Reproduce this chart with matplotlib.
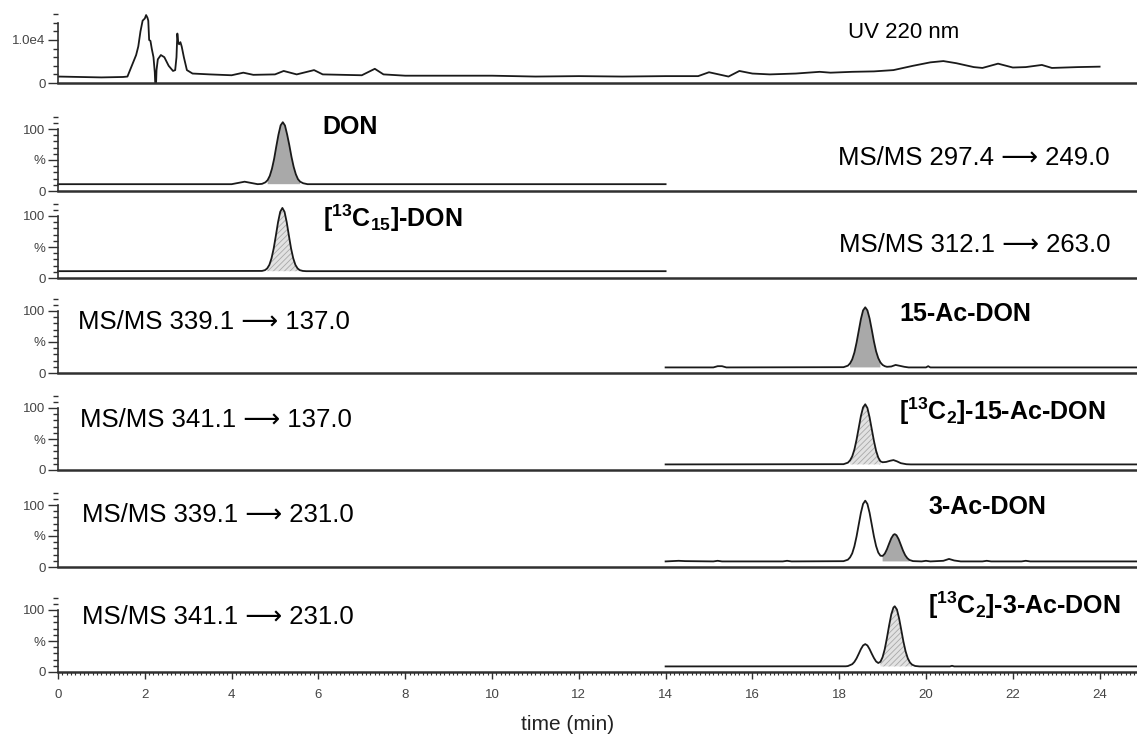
import numpy as np
import matplotlib
matplotlib.use('Agg')
import matplotlib.pyplot as plt
from matplotlib.ticker import MultipleLocator, FixedLocator, FixedFormatter

plt.rcParams['font.family'] = ['Liberation Sans', 'DejaVu Sans']
plt.rcParams['mathtext.fontset'] = 'custom'
plt.rcParams['mathtext.rm'] = 'Liberation Sans'
plt.rcParams['mathtext.bf'] = 'Liberation Sans:bold'
plt.rcParams['mathtext.it'] = 'Liberation Sans:italic'
plt.rcParams['hatch.linewidth'] = 0.6

# ---- data ----
# UV 220 nm trace (time in min, absorbance counts)
uv_t = [0, 0.5, 1.0, 1.5, 1.6, 1.7, 1.8, 1.85, 1.9, 1.95, 2.0, 2.03, 2.06, 2.08,
        2.1, 2.13, 2.16, 2.2, 2.23, 2.24, 2.26, 2.27, 2.3, 2.37, 2.45, 2.55, 2.65,
        2.7, 2.73, 2.75, 2.77, 2.79, 2.82, 2.85, 2.9, 2.97, 3.1, 3.5, 4.0, 4.27,
        4.5, 5.0, 5.2, 5.5, 5.9, 6.1, 7.0, 7.3, 7.5, 8.0, 10.0, 11.0, 12.0, 13.0,
        14.0, 14.75, 15.0, 15.45, 15.7, 16.0, 16.4, 17.0, 17.55, 17.8, 18.3,
        18.8, 19.25, 19.7, 20.1, 20.4, 20.7, 21.1, 21.3, 21.66, 22.0, 22.3,
        22.67, 22.9, 23.5, 24.0]
uv_y = [1500, 1400, 1300, 1400, 1500, 4000, 6500, 8500, 12000, 14500, 15000,
        15800, 15200, 14500, 10000, 9800, 8000, 6000, 2500, 0, 0, 3000, 5500,
        6500, 6000, 4000, 2800, 3000, 6000, 11500, 9500, 9000, 9500, 8500, 6000,
        3000, 2200, 2000, 1800, 2400, 1900, 2000, 2800, 2000, 3000, 2000, 1800,
        3300, 2000, 1700, 1700, 1500, 1600, 1500, 1600, 1600, 2500, 1500, 2800,
        2200, 2000, 2200, 2600, 2400, 2600, 2700, 3000, 4000, 4800, 5100, 4600,
        3700, 3500, 4500, 3600, 3700, 4200, 3500, 3700, 3800]

# DON, m/z 297.4 -> 249.0 (relative intensity %)
don_t = [0, 4.0, 4.15, 4.3, 4.45, 4.6, 4.7, 4.78, 4.83, 4.88, 4.93, 4.98, 5.03,
         5.08, 5.13, 5.18, 5.23, 5.28, 5.33, 5.38, 5.43, 5.48, 5.53, 5.58, 5.65,
         5.75, 14.0]
don_y = [11, 11, 13, 15, 13, 11, 11.5, 14, 17.6, 24.5, 36, 52, 72, 91, 106, 111,
         105.6, 91, 74, 55, 39, 27, 19, 15, 12.5, 11, 11]

# [13C15]-DON, m/z 312.1 -> 263.0
c15_t = [0, 4.7, 4.77, 4.82, 4.87, 4.92, 4.97, 5.02, 5.07, 5.12, 5.17, 5.22,
         5.27, 5.32, 5.37, 5.42, 5.47, 5.52, 5.57, 5.64, 5.72, 14.0]
c15_y = [11, 11.4, 12.7, 15.5, 21.2, 31.8, 47.7, 68.4, 90, 106.7, 113, 106.7,
         90, 68.4, 47.7, 31.8, 21.2, 15.5, 12.7, 11.4, 11, 11]

# 15-Ac-DON, m/z 339.1 -> 137.0
ac15_t = [14.0, 15.1, 15.2, 15.3, 15.4, 18.1, 18.2, 18.25, 18.3, 18.35, 18.4,
          18.45, 18.5, 18.55, 18.6, 18.65, 18.7, 18.75, 18.8, 18.85, 18.9,
          18.95, 19.0, 19.05, 19.1, 19.2, 19.3, 19.4, 19.5, 19.6, 20.0, 20.05,
          20.1, 24.86]
ac15_y = [9, 9, 11, 11, 9, 9.4, 11.8, 15.5, 22, 33, 49, 68, 87, 101, 106, 101,
          88, 70, 51, 35, 24, 17, 13, 11, 10, 10.5, 13, 11.5, 10, 9, 9, 11, 9, 9]

# [13C2]-15-Ac-DON, m/z 341.1 -> 137.0
c2ac15_t = [14.0, 18.1, 18.2, 18.25, 18.3, 18.35, 18.4, 18.45, 18.5, 18.55, 18.6,
            18.65, 18.7, 18.75, 18.8, 18.85, 18.9, 18.95, 19.0, 19.08, 19.18,
            19.25, 19.33, 19.42, 19.55, 19.65, 24.86]
c2ac15_y = [9, 9.4, 11.8, 15.5, 22, 33, 49, 68, 87, 101, 106, 100, 85, 66, 47,
            31, 20, 14, 12.5, 13, 15, 16, 14, 11, 9.3, 9, 9]

# 3-Ac-DON, m/z 339.1 -> 231.0
ac3_t = [14.0, 14.3, 14.45, 15.1, 15.2, 15.3, 16.7, 16.8, 16.9, 18.1, 18.2,
         18.25, 18.3, 18.35, 18.4, 18.45, 18.5, 18.55, 18.6, 18.65, 18.7, 18.75,
         18.8, 18.85, 18.9, 18.95, 19.0, 19.05, 19.1, 19.15, 19.2, 19.25, 19.28,
         19.32, 19.37, 19.42, 19.47, 19.52, 19.57, 19.62, 19.7, 19.9, 20.0,
         20.1, 20.4, 20.53, 20.65, 20.8, 21.3, 21.4, 21.5, 22.2, 22.3, 22.4,
         24.86]
ac3_y = [9, 10, 9.5, 9, 10, 9, 9, 10, 9, 9.4, 11.8, 15.5, 22, 33.4, 49.3, 68.5,
         87.4, 101.7, 107, 101.7, 87.4, 68.5, 49.4, 33.8, 23.3, 18.2, 17.8, 21.5,
         28.6, 37.7, 46.4, 52, 53, 51.2, 44.8, 35.7, 26.5, 19.1, 14.2, 11.3, 9.5,
         9, 10, 9, 10, 13, 10.5, 9, 9, 10, 9, 9, 10, 9, 9]

# [13C2]-3-Ac-DON, m/z 341.1 -> 231.0
c2ac3_t = [14.0, 18.15, 18.2, 18.3, 18.35, 18.4, 18.45, 18.5, 18.55, 18.6,
           18.65, 18.7, 18.75, 18.8, 18.85, 18.9, 18.95, 19.0, 19.05, 19.1,
           19.15, 19.2, 19.25, 19.28, 19.33, 19.38, 19.43, 19.48, 19.53, 19.58,
           19.63, 19.68, 19.75, 19.85, 20.55, 20.6, 20.65, 24.86]
c2ac3_y = [9, 9.2, 9.6, 12.6, 16.3, 22, 29.3, 36.9, 42.8, 45, 42.8, 36.9, 29.5,
           22.6, 17, 14.5, 16.5, 24, 37, 55, 75, 93, 104, 106, 100.8, 86.6, 67.9,
           48.9, 33.2, 22.1, 15.4, 11.8, 9.7, 9, 9, 10, 9, 9]

ARROW = '\u27f6'
ms_labels = ['MS/MS 297.4 ' + ARROW + ' 249.0', 'MS/MS 312.1 ' + ARROW + ' 263.0',
             'MS/MS 339.1 ' + ARROW + ' 137.0', 'MS/MS 341.1 ' + ARROW + ' 137.0',
             'MS/MS 339.1 ' + ARROW + ' 231.0', 'MS/MS 341.1 ' + ARROW + ' 231.0']
cmp_labels = [r'DON', r'$\mathbf{[^{13}C_{15}]}$-DON', r'15-Ac-DON',
              r'$\mathbf{[^{13}C_{2}]}$-15-Ac-DON', r'3-Ac-DON',
              r'$\mathbf{[^{13}C_{2}]}$-3-Ac-DON']

traces = [(don_t, don_y), (c15_t, c15_y), (ac15_t, ac15_y),
          (c2ac15_t, c2ac15_y), (ac3_t, ac3_y), (c2ac3_t, c2ac3_y)]
baselines = [11, 11, 9, 9, 9, 9]
fill_ranges = [(4.83, 5.6), (4.82, 5.57), (18.25, 18.95), (18.25, 18.95),
               (19.0, 19.62), (18.95, 19.7)]
labelled = [False, True, False, True, False, True]   # isotope standards hatched

# label placement (time, % level)
ms_pos = [(24.24, 53, 'right'), (24.24, 53, 'right'), (0.46, 82, 'left'),
          (0.5, 81, 'left'), (0.55, 84, 'left'), (0.55, 89, 'left')]
cmp_pos = [(6.1, 103), (6.1, 97), (19.38, 95), (19.38, 94), (20.05, 97),
           (20.05, 107)]

# ---- layout (pixel based) ----
W, H = 1137, 740
fig = plt.figure(figsize=(W / 100, H / 100), dpi=100)
x0 = 58
xmax = (W - x0) / 43.4
left, width = x0 / W, (W - x0) / W

zeros = [191, 278, 373, 470, 567, 672]
ppc = 62.0  # px per 100 %

LINE = '#1a1a1a'
SPINE = '#303030'
TICKC = '#444444'


def style_axes(ax):
    ax.set_xlim(0, xmax)
    for s in ('top', 'right'):
        ax.spines[s].set_visible(False)
    ax.spines['bottom'].set_linewidth(1.8)
    ax.spines['bottom'].set_color(SPINE)
    ax.spines['left'].set_linewidth(1.2)
    ax.spines['left'].set_color(SPINE)
    ax.patch.set_alpha(0)
    ax.tick_params(axis='x', bottom=False, labelbottom=False)
    ax.tick_params(axis='y', which='major', length=7, width=1.0, color=SPINE,
                   labelsize=9.5, labelcolor=TICKC, pad=2)
    ax.tick_params(axis='y', which='minor', length=3.5, width=1.0, color=SPINE)


# UV panel
uv_zero = 83
uv_ppu = 43.0 / 10000
uv_top = 17000
ax_uv = fig.add_axes([left, (H - uv_zero) / H, width, uv_top * uv_ppu / H])
style_axes(ax_uv)
ax_uv.set_ylim(0, uv_top)
ax_uv.spines['left'].set_bounds(0, 14000)
ax_uv.plot(uv_t, uv_y, color=LINE, lw=1.3)
ax_uv.yaxis.set_major_locator(FixedLocator([0, 10000]))
ax_uv.yaxis.set_major_formatter(FixedFormatter(['0', '1.0e4']))
ax_uv.yaxis.set_minor_locator(MultipleLocator(2000))
ax_uv.text(18.2, 11860, 'UV 220 nm', fontsize=16, va='center', ha='left')

axes = []
for i, z in enumerate(zeros):
    top = 120
    ax = fig.add_axes([left, (H - z) / H, width, ppc * top / 100 / H])
    style_axes(ax)
    ax.set_ylim(0, top)
    ax.spines['left'].set_bounds(0, 100)
    ax.yaxis.set_major_locator(FixedLocator([0, 50, 100]))
    ax.yaxis.set_major_formatter(FixedFormatter(['0', '%', '100']))
    ax.yaxis.set_minor_locator(MultipleLocator(10))

    t = np.array(traces[i][0], dtype=float)
    y = np.array(traces[i][1], dtype=float)
    a, b = fill_ranges[i]
    mask = (t >= a) & (t <= b)
    if labelled[i]:
        ax.fill_between(t, baselines[i], y, where=mask, facecolor='#e2e2e2',
                        edgecolor='#a8a8a8', hatch='//////', linewidth=0)
    else:
        ax.fill_between(t, baselines[i], y, where=mask, facecolor='#a9a9a9',
                        linewidth=0)
    ax.plot(t, y, color=LINE, lw=1.3, clip_on=False)

    mx, my, mha = ms_pos[i]
    ax.text(mx, my, ms_labels[i], fontsize=18.5, ha=mha, va='center')
    cx, cy = cmp_pos[i]
    ax.text(cx, cy, cmp_labels[i], fontsize=18, fontweight='bold',
            ha='left', va='center')
    axes.append(ax)

# bottom time axis
axb = axes[-1]
axb.tick_params(axis='x', bottom=True, labelbottom=True, which='major',
                length=5, width=1.0, color=SPINE, labelsize=9.5,
                labelcolor=TICKC, pad=7)
axb.tick_params(axis='x', which='minor', bottom=True, length=2.5, width=0.8,
                color=SPINE)
axb.xaxis.set_major_locator(MultipleLocator(2))
axb.xaxis.set_minor_locator(MultipleLocator(0.1))
axb.set_xlabel('time (min)', fontsize=15, color='#222222')
axb.xaxis.set_label_coords((568 - x0) / (W - x0), -0.58)

fig.savefig('out.png', dpi=100)
